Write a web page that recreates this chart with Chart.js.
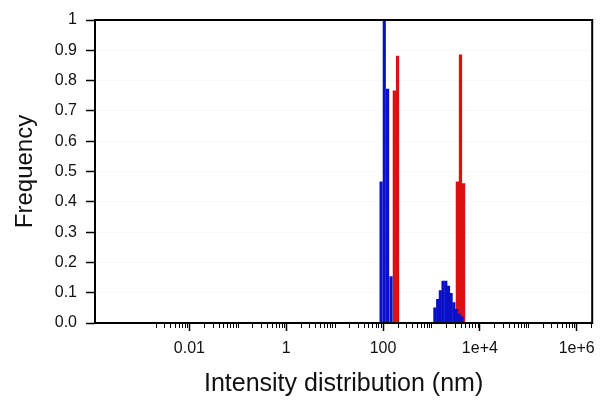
<!DOCTYPE html>
<html><head><meta charset="utf-8">
<script src="https://cdn.jsdelivr.net/npm/chart.js@4.4.0/dist/chart.umd.min.js"></script>
<style>html,body{margin:0;padding:0;background:#fff}</style>
</head><body>
<canvas id="c" width="603" height="405"></canvas>
<script>
// Size bins (nm) and frequencies
const blueSizes = [91, 106, 124, 146, 1175, 1342, 1525, 1733, 1977, 2248, 2543, 2890, 3283, 3751, 4262];
const blueFreq  = [0.466, 1.0, 0.772, 0.153, 0.05, 0.078, 0.107, 0.138, 0.138, 0.122, 0.098, 0.067, 0.045, 0.03, 0.02];
const redSizes  = [171, 199, 3428, 3972, 4603];
const redFreq   = [0.766, 0.881, 0.466, 0.885, 0.46];

const xMajorTicks = [0.01, 1, 100, 1e4, 1e6];
const xTickLabels = ['0.01', '1', '100', '1e+4', '1e+6'];
const yTicks = [0, 0.1, 0.2, 0.3, 0.4, 0.5, 0.6, 0.7, 0.8, 0.9, 1];
const yTickLabels = ['0.0', '0.1', '0.2', '0.3', '0.4', '0.5', '0.6', '0.7', '0.8', '0.9', '1'];

const xMin = 1.12e-4, xMax = 2.09e6;

// minor tick positions: 2..9 x 10^n (plus unlabeled decades)
const xMinorTicks = [];
for (let e = -3; e <= 6; e++) {
  for (let k = 1; k <= 9; k++) {
    const v = k * Math.pow(10, e);
    if (v < 0.0019 || v > xMax) continue;
    if (xMajorTicks.some(m => Math.abs(m - v) / m < 1e-9)) continue;
    xMinorTicks.push(v);
  }
}

const FONT = "'Liberation Sans', Arial, sans-serif";

const framePlugin = {
  id: 'frame',
  afterDraw(chart) {
    const {ctx, chartArea: {left, top, right, bottom}, scales: {x}} = chart;
    ctx.save();
    ctx.strokeStyle = '#000';
    ctx.lineWidth = 1;
    ctx.beginPath();
    xMinorTicks.forEach(v => {
      const px = Math.round(x.getPixelForValue(v)) + 0.5;
      ctx.moveTo(px, bottom);
      ctx.lineTo(px, bottom + 5);
    });
    ctx.stroke();
    ctx.lineWidth = 2;
    ctx.strokeRect(left, top, right - left, bottom - top);
    ctx.restore();
  }
};

new Chart(document.getElementById('c'), {
  type: 'bar',
  data: {
    datasets: [
      {
        label: 'blue',
        data: blueSizes.map((s, i) => ({x: s, y: blueFreq[i]})),
        backgroundColor: '#0a10c8',
        borderWidth: 0,
        barThickness: 2.5,
        grouped: false
      },
      {
        label: 'red',
        data: redSizes.map((s, i) => ({x: s, y: redFreq[i]})),
        backgroundColor: '#dc1010',
        borderWidth: 0,
        barThickness: 2.6,
        grouped: false
      }
    ]
  },
  options: {
    responsive: false,
    animation: false,
    devicePixelRatio: 1,
    layout: {padding: {left: 0, right: 9, top: 20, bottom: 0}},
    plugins: {legend: {display: false}, tooltip: {enabled: false}},
    scales: {
      x: {
        type: 'logarithmic',
        min: xMin,
        max: xMax,
        offset: false,
        afterBuildTicks(scale) {
          scale.ticks = xMajorTicks.map(v => ({value: v, major: true}));
        },
        afterFit(scale) { scale.height = 82; },
        grid: {
          offset: false,
          drawOnChartArea: false,
          drawTicks: true,
          tickLength: 8,
          tickColor: '#000',
          tickWidth: 1.5
        },
        border: {display: false},
        ticks: {
          autoSkip: false,
          maxRotation: 0,
          minRotation: 0,
          padding: 8,
          color: '#111',
          font: {family: FONT, size: 16},
          callback(value) {
            const i = xMajorTicks.findIndex(m => Math.abs(m - value) / m < 1e-9);
            return i >= 0 ? xTickLabels[i] : '';
          }
        },
        title: {
          display: true,
          text: 'Intensity distribution (nm)',
          color: '#111',
          font: {family: FONT, size: 25},
          padding: {top: 0, bottom: 6}
        }
      },
      y: {
        min: 0,
        max: 1,
        afterBuildTicks(scale) {
          scale.ticks = yTicks.map(v => ({value: v}));
        },
        afterFit(scale) { scale.width = 95; },
        grid: {
          drawOnChartArea: true,
          color: 'rgba(0,0,0,0.025)',
          drawTicks: true,
          tickLength: 9,
          tickColor: '#000',
          tickWidth: 1.5
        },
        border: {display: false},
        ticks: {
          padding: 9,
          color: '#111',
          font: {family: FONT, size: 16},
          callback(value) {
            const i = yTicks.findIndex(t => Math.abs(t - value) < 1e-9);
            return i >= 0 ? yTickLabels[i] : '';
          }
        },
        title: {
          display: true,
          text: 'Frequency',
          color: '#111',
          font: {family: FONT, size: 24},
          padding: {top: 11, bottom: 0}
        }
      }
    }
  },
  plugins: [framePlugin]
});
</script>
</body></html>
